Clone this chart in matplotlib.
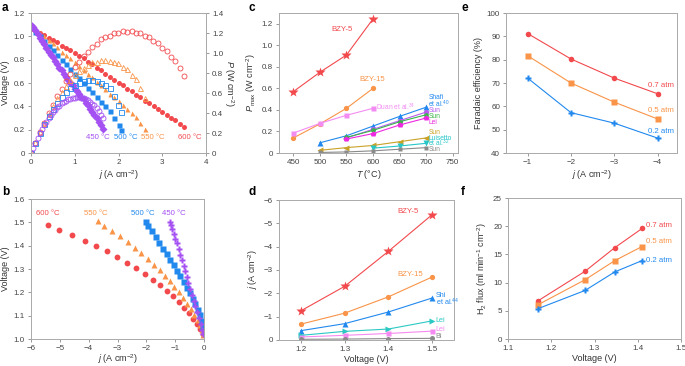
import numpy as np
import matplotlib.pyplot as plt

plt.rcParams['font.family'] = ['Liberation Sans', 'DejaVu Sans']
plt.rcParams['mathtext.fontset'] = 'custom'
plt.rcParams['mathtext.rm'] = 'Liberation Sans'
plt.rcParams['mathtext.it'] = 'Liberation Sans:italic'
plt.rcParams['font.size'] = 6.5
plt.rcParams['xtick.labelsize'] = 5.8
plt.rcParams['ytick.labelsize'] = 5.8
plt.rcParams['text.color'] = '#333333'
plt.rcParams['axes.labelcolor'] = '#333333'
plt.rcParams['xtick.color'] = '#888888'
plt.rcParams['ytick.color'] = '#888888'
plt.rcParams['xtick.labelcolor'] = '#444444'
plt.rcParams['ytick.labelcolor'] = '#444444'
plt.rcParams['axes.edgecolor'] = '#aaaaaa'

RED = '#f2494d'
ORANGE = '#f99448'
BLUE = '#2189ee'
PURPLE = '#a450f2'

# ---- panel a : I-V curves (fuel cell mode)
j600 = [0, 0.1, 0.2, 0.3, 0.4, 0.5, 0.6, 0.7, 0.8, 0.9, 1.0, 1.1, 1.2, 1.3, 1.4, 1.5, 1.6, 1.7,
        1.8, 1.9, 2.0, 2.1, 2.2, 2.3, 2.4, 2.5, 2.6, 2.7, 2.8, 2.9, 3.0, 3.1, 3.2, 3.3, 3.4, 3.5]
v600 = [1.06, 1.05, 1.03, 1.01, 0.99, 0.97, 0.95, 0.92, 0.90, 0.88, 0.86, 0.83, 0.81, 0.78, 0.76,
        0.73, 0.71, 0.68, 0.65, 0.63, 0.60, 0.58, 0.55, 0.53, 0.50, 0.48, 0.45, 0.43, 0.40, 0.38,
        0.35, 0.33, 0.30, 0.28, 0.25, 0.22]
j550 = [0, 0.1, 0.2, 0.3, 0.4, 0.5, 0.6, 0.7, 0.8, 0.9, 1.0, 1.1, 1.2, 1.3, 1.4, 1.5, 1.6, 1.7,
        1.8, 1.9, 2.0, 2.1, 2.2, 2.3, 2.4, 2.5, 2.6]
v550 = [1.08, 1.06, 1.03, 1.00, 0.97, 0.94, 0.91, 0.87, 0.84, 0.81, 0.78, 0.75, 0.71, 0.68, 0.65,
        0.61, 0.58, 0.55, 0.51, 0.48, 0.45, 0.41, 0.38, 0.34, 0.31, 0.26, 0.21]
j500 = [0, 0.1, 0.2, 0.3, 0.4, 0.5, 0.6, 0.7, 0.8, 0.9, 1.0, 1.1, 1.2, 1.3, 1.4, 1.5, 1.6, 1.7,
        1.8, 1.9, 2.0, 2.05]
v500 = [1.08, 1.04, 1.00, 0.96, 0.92, 0.88, 0.84, 0.80, 0.76, 0.72, 0.68, 0.64, 0.60, 0.56, 0.52,
        0.48, 0.44, 0.40, 0.36, 0.30, 0.24, 0.20]
j450 = [0, 0.05, 0.1, 0.15, 0.2, 0.25, 0.3, 0.35, 0.4, 0.45, 0.5, 0.55, 0.6, 0.65, 0.7, 0.75, 0.8,
        0.85, 0.9, 0.95, 1.0, 1.05, 1.1, 1.15, 1.2, 1.25, 1.3, 1.35, 1.4, 1.45, 1.5, 1.55, 1.6, 1.65]
v450 = [1.10, 1.08, 1.05, 1.02, 0.99, 0.96, 0.93, 0.90, 0.87, 0.84, 0.82, 0.79, 0.76, 0.73, 0.71,
        0.68, 0.65, 0.63, 0.60, 0.58, 0.55, 0.53, 0.51, 0.48, 0.46, 0.43, 0.41, 0.38, 0.35, 0.33,
        0.30, 0.27, 0.24, 0.21]

# ---- panel b : electrolysis mode
jb600 = [-5.42, -5.02, -4.58, -4.14, -3.75, -3.38, -3.03, -2.68, -2.36, -2.06, -1.78, -1.51, -1.29,
         -1.09, -0.88, -0.69, -0.53, -0.37, -0.25, -0.14, -0.05]
vb600 = [1.489, 1.469, 1.444, 1.422, 1.397, 1.376, 1.35, 1.326, 1.303, 1.277, 1.255, 1.23, 1.206,
         1.185, 1.159, 1.135, 1.11, 1.084, 1.064, 1.041, 1.02]
jb550 = [-3.66, -3.48, -3.18, -2.9, -2.65, -2.4, -2.17, -1.95, -1.75, -1.54, -1.36, -1.19, -1.04,
         -0.88, -0.73, -0.59, -0.45, -0.34, -0.22, -0.13, -0.07, -0.02]
vb550 = [1.504, 1.486, 1.462, 1.44, 1.415, 1.391, 1.367, 1.343, 1.319, 1.296, 1.272, 1.247, 1.223,
         1.2, 1.176, 1.152, 1.129, 1.105, 1.083, 1.06, 1.037, 1.017]
jb500 = [-2.02, -1.93, -1.8, -1.68, -1.55, -1.42, -1.29, -1.17, -1.05, -0.94, -0.82, -0.71, -0.6,
         -0.5, -0.39, -0.3, -0.21, -0.14, -0.08, -0.03]
vb500 = [1.5, 1.484, 1.461, 1.437, 1.413, 1.387, 1.364, 1.34, 1.317, 1.293, 1.269, 1.245, 1.22,
         1.196, 1.172, 1.148, 1.125, 1.101, 1.077, 1.053]
jb450 = [-1.18, -1.14, -1.1, -1.04, -0.99, -0.93, -0.88, -0.82, -0.76, -0.71, -0.65, -0.6, -0.54,
         -0.48, -0.42, -0.36, -0.3, -0.23, -0.17, -0.11, -0.06, -0.02]
vb450 = [1.5, 1.49, 1.47, 1.45, 1.43, 1.41, 1.385, 1.36, 1.34, 1.315, 1.29, 1.265, 1.24, 1.215,
         1.19, 1.165, 1.14, 1.115, 1.09, 1.065, 1.04, 1.02]

# ---- panel c : Pmax vs T comparison
T_c = [450, 500, 550, 600, 650, 700]
c_bzy5 = [0.57, 0.75, 0.91, 1.245]
c_bzy15 = [0.14, 0.27, 0.415, 0.60]
c_duan = [0.185, 0.275, 0.35, 0.415]
c_shafi = [0.095, 0.16, 0.25, 0.34, 0.425]
c_sun1 = [0.14, 0.22, 0.30, 0.38]
c_sun2 = [0.145, 0.21, 0.29, 0.355]
c_lei = [0.13, 0.18, 0.26, 0.325]
c_sun3 = [0.025, 0.05, 0.07, 0.105, 0.14]
c_luis = [0.045, 0.065, 0.09]
c_sun4 = [0.005, 0.01, 0.02, 0.035, 0.05]

# ---- panel d : j vs voltage comparison
V_d = [1.2, 1.3, 1.4, 1.5]
d_bzy5 = [-1.25, -2.3, -3.8, -5.37]
d_bzy15 = [-0.68, -1.15, -1.85, -2.7]
d_shi = [-0.4, -0.7, -1.2, -1.8]
d_lei1 = [-0.2, -0.37, -0.47, -0.82]
d_lei2 = [-0.13, -0.2, -0.28, -0.38]
d_bi = [-0.03, -0.04, -0.06, -0.07]

# ---- panel e : faradaic efficiency
j_e = [-1, -2, -3, -4]
fe07 = [91.2, 80.3, 72.1, 65.4]
fe05 = [81.7, 70.0, 61.8, 54.6]
fe02 = [72.1, 57.3, 52.8, 46.4]

# ---- panel f : H2 flux
V_f = [1.17, 1.278, 1.347, 1.41]
h07 = [6.8, 12.0, 16.2, 19.6]
h05 = [6.1, 10.5, 13.9, 16.4]
h02 = [5.4, 8.6, 11.9, 13.9]

W, H = 685, 366
fig = plt.figure(figsize=(W / 100, H / 100), dpi=100)


def axpx(l, t, r, b):
    return fig.add_axes([l / W, 1 - b / H, (r - l) / W, (b - t) / H])


def style(ax):
    ax.tick_params(length=2.5, width=0.6, pad=1.8)
    for s in ax.spines.values():
        s.set_linewidth(0.7)


fa = 5.6   # annotation size
fs = 4.8   # small side labels
lw = 0.8

# panel a
ax = axpx(31, 13, 206, 153)
style(ax)
axr = ax.twinx()
style(axr)
ms = 3.6
for jj, vv, c, mk in [(j600, v600, RED, 'o'), (j550, v550, ORANGE, '^'),
                      (j500, v500, BLUE, 's'), (j450, v450, PURPLE, 'D')]:
    ax.plot(jj, vv, mk, color=c, ms=ms, mec='none')
    p = np.array(jj) * np.array(vv)
    axr.plot(jj, p, mk if mk != 'D' else 'o', mfc='none', mec=c, ms=ms, mew=0.6)
ax.set_xlim(0, 4)
ax.set_ylim(0, 1.2)
axr.set_ylim(0, 1.4)
ax.set_xticks([0, 1, 2, 3, 4])
ax.set_yticks([0, 0.2, 0.4, 0.6, 0.8, 1.0, 1.2])
ax.set_yticklabels(['0', '0.2', '0.4', '0.6', '0.8', '1.0', '1.2'])
axr.set_yticks([0, 0.2, 0.4, 0.6, 0.8, 1.0, 1.2, 1.4])
axr.set_yticklabels(['0', '0.2', '0.4', '0.6', '0.8', '1.0', '1.2', '1.4'])
ax.set_xlabel(r'$j$ (A cm$^{-2}$)', labelpad=1.5)
ax.set_ylabel('Voltage (V)', labelpad=3)
axr.set_ylabel(r'$P$ (W cm$^{-2}$)', rotation=270, labelpad=9)
for x, t, c in [(1.52, '450 °C', PURPLE), (2.17, '500 °C', BLUE),
                (2.79, '550 °C', ORANGE), (3.62, '600 °C', RED)]:
    ax.text(x, 0.13, t, color=c, ha='center', va='center', fontsize=fa)

# panel b
ax = axpx(31, 199, 204, 339)
style(ax)
ax.plot(jb600, vb600, 'o', color=RED, ms=4.2, mec='none')
ax.plot(jb550, vb550, '^', color=ORANGE, ms=4.4, mec='none')
ax.plot(jb500, vb500, 's', color=BLUE, ms=4.0, mec='none')
ax.plot(jb450, vb450, 'P', color=PURPLE, ms=4.4, mec='none')
ax.set_xlim(-6, 0)
ax.set_ylim(1.0, 1.6)
ax.set_xticks([-6, -5, -4, -3, -2, -1, 0])
ax.set_xticklabels(['\u22126', '\u22125', '\u22124', '\u22123', '\u22122', '\u22121', '0'])
ax.set_yticks([1.0, 1.1, 1.2, 1.3, 1.4, 1.5, 1.6])
ax.set_xlabel(r'$j$ (A cm$^{-2}$)', labelpad=0.5)
ax.set_ylabel('Voltage (V)', labelpad=3)
for x, t, c in [(-5.41, '600 °C', RED), (-3.76, '550 °C', ORANGE),
                (-2.14, '500 °C', BLUE), (-1.06, '450 °C', PURPLE)]:
    ax.text(x, 1.539, t, color=c, ha='center', va='center', fontsize=fa)

# panel c
ax = axpx(279, 13, 458, 153)
style(ax)
ax.plot(T_c[:4], c_bzy5, '-*', color=RED, ms=7, lw=lw, mec='none')
ax.plot(T_c[:4], c_bzy15, '-o', color=ORANGE, ms=3.8, lw=lw, mec='none')
ax.plot(T_c[:4], c_duan, '-s', color='#f38cf2', ms=3.6, lw=lw, mec='none')
ax.plot(T_c[1:], c_shafi, '-^', color=BLUE, ms=4, lw=lw, mec='none')
ax.plot(T_c[2:], c_sun1, '-o', color='#b65cef', ms=3.8, lw=lw, mec='none')
ax.plot(T_c[2:], c_sun2, '-o', color='#3bb54a', ms=3.4, lw=lw, mec='none')
ax.plot(T_c[2:], c_lei, '-p', color='#ee28e0', ms=4, lw=lw, mec='none')
ax.plot(T_c[1:], c_sun3, '-<', color='#c9a227', ms=3.8, lw=lw, mec='none')
ax.plot(T_c[3:], c_luis, '-v', color='#26c6c9', ms=3.8, lw=lw, mec='none')
ax.plot(T_c[1:], c_sun4, '-s', color='#8a8a8a', ms=3.4, lw=lw, mec='none')
ax.set_xlim(423, 760)
ax.set_ylim(0, 1.3)
ax.set_xticks([450, 500, 550, 600, 650, 700, 750])
ax.set_yticks([0, 0.2, 0.4, 0.6, 0.8, 1.0, 1.2])
ax.set_yticklabels(['0', '0.2', '0.4', '0.6', '0.8', '1.0', '1.2'])
ax.set_xlabel(r'$T$ (°C)', labelpad=1.5)
ax.set_ylabel(r'$P_{\rm max}$ (W cm$^{-2}$)', labelpad=3)
ax.text(541, 1.15, 'BZY-5', color=RED, ha='center', va='center', fontsize=fa)
ax.text(599, 0.68, 'BZY-15', color=ORANGE, ha='center', va='center', fontsize=fa)
ax.text(606, 0.42, r'Duan et al.$^{34}$', color='#f38cf2', ha='left', va='center', fontsize=fs)
for y, t, c in [(0.515, 'Shafi', BLUE), (0.455, r'et al.$^{40}$', BLUE),
                (0.395, 'Sun', '#b65cef'), (0.34, 'Sun', '#3bb54a'),
                (0.285, 'Lei', '#ee28e0'), (0.19, 'Sun', '#c9a227'),
                (0.138, 'Luisetto', '#26c6c9'), (0.085, r'et al.$^{32}$', '#26c6c9'),
                (0.028, 'Sun', '#8a8a8a')]:
    ax.text(704, y, t, color=c, ha='left', va='center', fontsize=fs)

# panel d
ax = axpx(279, 200, 454, 340)
style(ax)
ax.plot(V_d, d_bzy5, '-*', color=RED, ms=7, lw=lw, mec='none')
ax.plot(V_d, d_bzy15, '-o', color=ORANGE, ms=3.8, lw=lw, mec='none')
ax.plot(V_d, d_shi, '-^', color=BLUE, ms=4, lw=lw, mec='none')
ax.plot(V_d, d_lei1, '->', color='#2cc9c4', ms=4, lw=lw, mec='none')
ax.plot(V_d, d_lei2, '-s', color='#f58af0', ms=3.6, lw=lw, mec='none')
ax.plot(V_d, d_bi, '-o', color='#8a8a8a', ms=3.6, lw=lw, mec='none')
ax.set_xlim(1.15, 1.55)
ax.set_ylim(0, -6)
ax.set_xticks([1.2, 1.3, 1.4, 1.5])
ax.set_yticks([0, -1, -2, -3, -4, -5, -6])
ax.set_yticklabels(['0', '\u22121', '\u22122', '\u22123', '\u22124', '\u22125', '\u22126'])
ax.set_xlabel('Voltage (V)', labelpad=1.5)
ax.set_ylabel(r'$j$ (A cm$^{-2}$)', labelpad=3)
ax.text(1.446, -5.5, 'BZY-5', color=RED, ha='center', va='center', fontsize=fa)
ax.text(1.449, -2.81, 'BZY-15', color=ORANGE, ha='center', va='center', fontsize=fa)
for y, t, c in [(-1.92, 'Shi', BLUE), (-1.6, r'et al.$^{44}$', BLUE),
                (-0.83, 'Lei', '#2cc9c4'), (-0.43, 'Lei', '#f58af0'),
                (-0.14, 'Bi', '#8a8a8a')]:
    ax.text(1.508, y, t, color=c, ha='left', va='center', fontsize=fs + 0.4)

# panel e
ax = axpx(506, 13, 677, 153)
style(ax)
ax.plot(j_e, fe07, '-o', color=RED, ms=4, lw=lw, mec='none')
ax.plot(j_e, fe05, '-s', color=ORANGE, ms=3.8, lw=lw, mec='none')
ax.plot(j_e, fe02, '-P', color=BLUE, ms=4.4, lw=lw, mec='none')
ax.set_xlim(-0.5, -4.45)
ax.set_ylim(40, 100)
ax.set_xticks([-1, -2, -3, -4])
ax.set_xticklabels(['\u22121', '\u22122', '\u22123', '\u22124'])
ax.set_xlabel(r'$j$ (A cm$^{-2}$)', labelpad=1.5)
ax.set_ylabel('Faradaic efficiency (%)', labelpad=3)
ax.text(-4.09, 69, '0.7 atm', color=RED, ha='center', va='center', fontsize=fa)
ax.text(-4.09, 58.3, '0.5 atm', color=ORANGE, ha='center', va='center', fontsize=fa)
ax.text(-4.09, 49.3, '0.2 atm', color=BLUE, ha='center', va='center', fontsize=fa)

# panel f
ax = axpx(508, 198, 681, 339)
style(ax)
ax.plot(V_f, h07, '-o', color=RED, ms=4, lw=lw, mec='none')
ax.plot(V_f, h05, '-s', color=ORANGE, ms=3.8, lw=lw, mec='none')
ax.plot(V_f, h02, '-P', color=BLUE, ms=4.4, lw=lw, mec='none')
ax.set_xlim(1.1, 1.5)
ax.set_ylim(0, 25)
ax.set_xticks([1.1, 1.2, 1.3, 1.4, 1.5])
ax.set_yticks([0, 5, 10, 15, 20, 25])
ax.set_xlabel('Voltage (V)', labelpad=1.5)
ax.set_ylabel(r'H$_2$ flux (ml min$^{-1}$ cm$^{-2}$)', labelpad=3)
ax.text(1.42, 20.2, '0.7 atm', color=RED, ha='left', va='center', fontsize=fa)
ax.text(1.42, 17.2, '0.5 atm', color=ORANGE, ha='left', va='center', fontsize=fa)
ax.text(1.42, 14.0, '0.2 atm', color=BLUE, ha='left', va='center', fontsize=fa)

# panel letters
for x, y, t in [(2, 8, 'a'), (2, 192, 'b'), (248, 8, 'c'), (248, 192, 'd'), (461, 8, 'e'), (461, 192, 'f')]:
    fig.text(x / W, 1 - y / H, t, fontsize=8.5, fontweight='bold', color='black', ha='left', va='center')

fig.savefig('out.png', dpi=100)
